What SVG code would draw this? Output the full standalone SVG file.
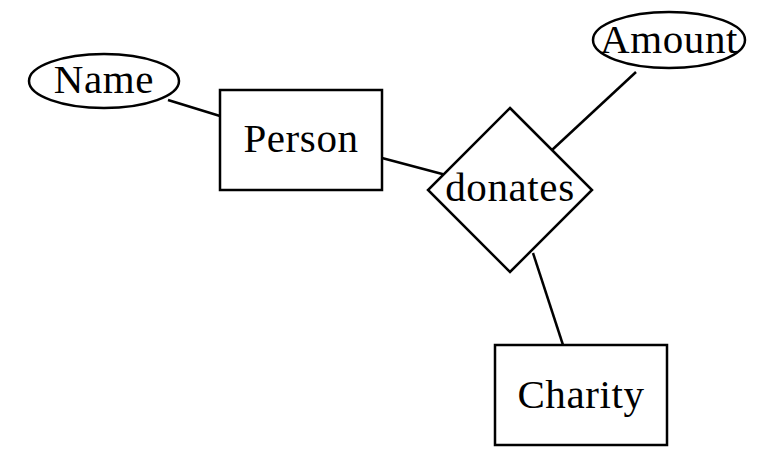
<svg xmlns="http://www.w3.org/2000/svg" width="778" height="454" viewBox="0 0 778 454">
<style>
.s{fill:#fff;stroke:#000;stroke-width:2.5}
.l{stroke:#000;stroke-width:2.5;fill:none}
text{font-family:"Liberation Serif",serif;font-size:41px;letter-spacing:0.6px;fill:#000;text-anchor:middle;dominant-baseline:central}
</style>
<rect width="778" height="454" fill="#fff"/>
<g id="connectors">
<line class="l" x1="168" y1="100" x2="220" y2="116"/>
<line class="l" x1="382" y1="158" x2="446" y2="175"/>
<line class="l" x1="552" y1="150" x2="636" y2="72"/>
<line class="l" x1="533" y1="253" x2="563" y2="345"/>
</g>
<g id="name"><ellipse class="s" cx="104" cy="81" rx="75" ry="27"/><text x="104" y="79">Name</text></g>
<g id="amount"><ellipse class="s" cx="669" cy="40" rx="76" ry="28"/><text x="669" y="39">Amount</text></g>
<g id="person"><rect class="s" x="220" y="90" width="162" height="100"/><text x="301" y="138">Person</text></g>
<g id="donates"><polygon class="s" points="510,108 592,190 510,272 428,190"/><text x="510" y="187">donates</text></g>
<g id="charity"><rect class="s" x="495" y="345" width="172" height="100"/><text x="581" y="394">Charity</text></g>
</svg>
